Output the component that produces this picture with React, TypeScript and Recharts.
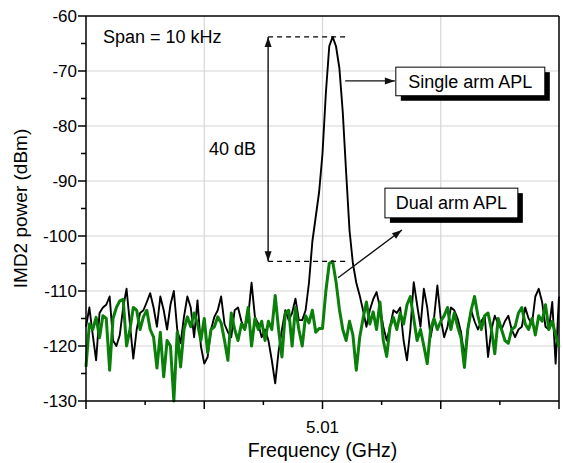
import React from 'react';
import { LineChart, Line, XAxis, YAxis, CartesianGrid, ReferenceLine, ReferenceArea, ReferenceDot } from 'recharts';

// IMD2 spectrum, 141 samples across a 10 kHz span (dBm)
const singleArm = [
  -116.5, -113, -118, -122.6, -114, -113, -112.5, -111, -119, -120,
  -118, -113, -109.6, -116, -122.3, -117, -114, -113.5, -112, -110.4,
  -113, -116.5, -111, -113.5, -117, -112.5, -110, -117, -119.5, -114.7,
  -111, -113, -118.4, -111.7, -120, -123.2, -122, -117, -114.7, -113.5,
  -111, -116, -117.5, -118.4, -113.5, -113, -115.5, -117, -114.7, -108.5,
  -114.7, -116, -118.4, -117, -119, -122.6, -126.8, -121, -117, -113.5,
  -115.3, -114, -111.4, -115.3, -115.3, -113.5, -108.5, -101, -96.5, -92,
  -85, -74, -65.5, -63.8, -65.5, -69.5, -77.5, -88.5, -99, -105,
  -108.5, -110.8, -113.5, -116.5, -113.5, -111.5, -110.2, -113, -116.5, -119,
  -116.5, -113.5, -114, -113, -119, -122.6, -117, -108.4, -112.5, -116.5,
  -109.6, -113, -118.4, -115, -109, -115, -118.4, -116.5, -113, -113.5,
  -115, -117.5, -122, -117, -113.5, -115.5, -117, -115.5, -114.5, -122,
  -117, -114.5, -116, -117, -115.5, -114.5, -117, -118.4, -117, -116.5,
  -113, -115, -116, -111, -109.6, -112, -116.5, -117, -112, -123.2,
  -111,
];

const dualArm = [
  -123.8, -116, -117, -114.8, -118.5, -114.5, -115, -124.4, -115, -113,
  -111.8, -111.5, -120, -117, -113, -113.5, -117, -114.7, -113.5, -117,
  -118.4, -124, -117.5, -125.6, -119, -120, -130, -117.5, -123.8, -117,
  -114.7, -116.5, -114, -116, -119, -115, -121.2, -117, -116.5, -114.7,
  -115.8, -119, -122.6, -114, -117, -119, -116, -117, -113, -120,
  -115, -117, -115.5, -119, -115.5, -117, -110.8, -117, -122, -114,
  -113.5, -120, -113, -117, -120, -114.5, -115.8, -113.5, -117.5, -116.8,
  -116.8, -110, -105, -104.6, -108.3, -113.3, -117, -119, -115.5, -118,
  -124.4, -118.5, -115, -112, -116, -113.8, -117, -112, -119, -121.9,
  -116.5, -114.8, -117, -114, -116, -112.5, -111, -115, -119, -117,
  -120, -123.2, -117, -115, -117, -115.5, -114.5, -113, -117, -114,
  -116.5, -118.5, -123.9, -117, -113.5, -111, -114.5, -117, -114.5, -114,
  -117, -121.4, -115, -117, -119, -119.5, -117, -116.5, -114, -113,
  -116, -117, -115, -118, -114.5, -115.5, -112.5, -117, -115.5, -118,
  -120.2,
];

const spanKHz = 10;
const xTicks = [-5, -3.75, -2.5, -1.25, 0, 1.25, 2.5, 3.75, 5];
const xMajor = [-5, -2.5, 0, 2.5, 5];
const centerLabel = '5.01';
const yTicks = [-130, -125, -120, -115, -110, -105, -100, -95, -90, -85, -80, -75, -70, -65, -60];
const gridX = [-2.5, 0, 2.5];
const gridY = [-70, -80, -90, -100, -110, -120];

const singlePeak = Math.max(...singleArm);
const dualPeak = Math.max(...dualArm);

const data = singleArm.map((v, i) => ({
  f: -spanKHz / 2 + (i * spanKHz) / (singleArm.length - 1),
  single: v,
  dual: dualArm[i],
}));

const FONT = '"Liberation Sans", Arial, sans-serif';

const XTick = (props: any) => {
  const { x, y, payload } = props;
  const major = xMajor.includes(payload.value);
  return (
    <g>
      <line x1={x} y1={y} x2={x} y2={y + (major ? 8 : 4)} stroke="#000" strokeWidth={1.5} />
      {payload.value === 0 && (
        <text x={x} y={y + 32} textAnchor="middle" fontSize={17} fontFamily={FONT} fill="#000">{centerLabel}</text>
      )}
    </g>
  );
};

const YTick = (props: any) => {
  const { x, y, payload } = props;
  const major = payload.value % 10 === 0;
  return (
    <g>
      <line x1={x - (major ? 8 : 5)} y1={y} x2={x} y2={y} stroke="#000" strokeWidth={1.5} />
      {major && (
        <text x={x - 9} y={y} dy="0.35em" textAnchor="end" fontSize={17} fontFamily={FONT} fill="#000">{payload.value}</text>
      )}
    </g>
  );
};

const headPoints = (x1: number, y1: number, x2: number, y2: number) => {
  const len = Math.hypot(x2 - x1, y2 - y1) || 1;
  const ux = (x2 - x1) / len;
  const uy = (y2 - y1) / len;
  const bx = x2 - ux * 10;
  const by = y2 - uy * 10;
  return `${x2},${y2} ${bx - uy * 3.5},${by + ux * 3.5} ${bx + uy * 3.5},${by - ux * 3.5}`;
};

const arrow = (both: boolean) => (p: any) => {
  const { x1, y1, x2, y2 } = p;
  return (
    <g>
      <line x1={x1} y1={y1} x2={x2} y2={y2} stroke="#111" strokeWidth={1.4} />
      <polygon points={headPoints(x1, y1, x2, y2)} fill="#111" />
      {both && <polygon points={headPoints(x2, y2, x1, y1)} fill="#111" />}
    </g>
  );
};

const labelBox = (text: string) => (p: any) => {
  const { x, y, width, height } = p;
  return (
    <g>
      <rect x={x + 5} y={y + 5} width={width} height={height} fill="#000" />
      <rect x={x} y={y} width={width} height={height} fill="#fff" stroke="#000" strokeWidth={1} />
      <text x={x + width / 2} y={y + height / 2} dy="0.35em" textAnchor="middle" fontSize={18} fontFamily={FONT} fill="#000">{text}</text>
    </g>
  );
};

const note = (text: string, baseline: boolean) => (p: any) => (
  <text x={p.cx} y={p.cy} dy={baseline ? 0 : '0.35em'} fontSize={18} fontFamily={FONT} fill="#000">{text}</text>
);

export default function App() {
  return (
    <div style={{ position: 'absolute', left: 0, top: 0, background: '#fff', fontFamily: FONT }}>
      <LineChart width={563} height={463} data={data} margin={{ top: 16, right: 4, bottom: 0, left: 0 }}>
        <CartesianGrid stroke="#d6d6d6" strokeWidth={1.2} verticalValues={gridX} horizontalValues={gridY} />
        <XAxis
          dataKey="f"
          type="number"
          domain={[-5, 5]}
          ticks={xTicks}
          interval={0}
          height={62}
          tickSize={0}
          tickMargin={0}
          tickLine={false}
          tick={XTick}
          axisLine={{ stroke: '#000', strokeWidth: 1.5 }}
          label={{
            content: (p: any) => {
              const vb = p.viewBox;
              return (
                <text x={vb.x + vb.width / 2} y={vb.y + 56} textAnchor="middle" fontSize={19.5} fontFamily={FONT} fill="#000">Frequency (GHz)</text>
              );
            },
          }}
        />
        <YAxis
          type="number"
          domain={[-130, -60]}
          ticks={yTicks}
          interval={0}
          width={86}
          tickSize={0}
          tickMargin={0}
          tickLine={false}
          tick={YTick}
          axisLine={{ stroke: '#000', strokeWidth: 1.5 }}
          label={{
            content: (p: any) => {
              const vb = p.viewBox;
              const cx = vb.x + 20;
              const cy = vb.y + vb.height / 2;
              return (
                <text x={cx} y={cy} dy="0.35em" transform={`rotate(-90 ${cx} ${cy})`} textAnchor="middle" fontSize={19} fontFamily={FONT} fill="#000">IMD2 power (dBm)</text>
              );
            },
          }}
        />
        <ReferenceLine y={-60} stroke="#000" strokeWidth={1.5} />
        <ReferenceLine x={5} stroke="#000" strokeWidth={1.5} />
        <Line type="linear" dataKey="single" stroke="#000" strokeWidth={1.9} strokeLinejoin="round" dot={false} isAnimationActive={false} />
        <Line type="linear" dataKey="dual" stroke="#0a7f0a" strokeWidth={3} strokeLinejoin="round" dot={false} isAnimationActive={false} />
        <ReferenceLine segment={[{ x: -1.15, y: singlePeak }, { x: 0.54, y: singlePeak }]} stroke="#000" strokeWidth={1.2} strokeDasharray="5 4" />
        <ReferenceLine segment={[{ x: -1.15, y: dualPeak }, { x: 0.54, y: dualPeak }]} stroke="#000" strokeWidth={1.2} strokeDasharray="5 4" />
        <ReferenceLine segment={[{ x: -1.15, y: singlePeak }, { x: -1.15, y: dualPeak }]} shape={arrow(true)} />
        <ReferenceLine segment={[{ x: 0.48, y: -71.8 }, { x: 1.53, y: -71.8 }]} shape={arrow(false)} />
        <ReferenceLine segment={[{ x: 0.33, y: -107.6 }, { x: 1.68, y: -98.9 }]} shape={arrow(false)} />
        <ReferenceArea x1={1.55} x2={4.7} y1={-74.5} y2={-69.3} shape={labelBox('Single arm APL')} />
        <ReferenceArea x1={1.32} x2={4.13} y1={-96.7} y2={-91.3} shape={labelBox('Dual arm APL')} />
        <ReferenceDot x={-4.64} y={-64.9} r={0} shape={note('Span = 10 kHz', true)} />
        <ReferenceDot x={-2.4} y={-84.2} r={0} shape={note('40 dB', false)} />
      </LineChart>
    </div>
  );
}
